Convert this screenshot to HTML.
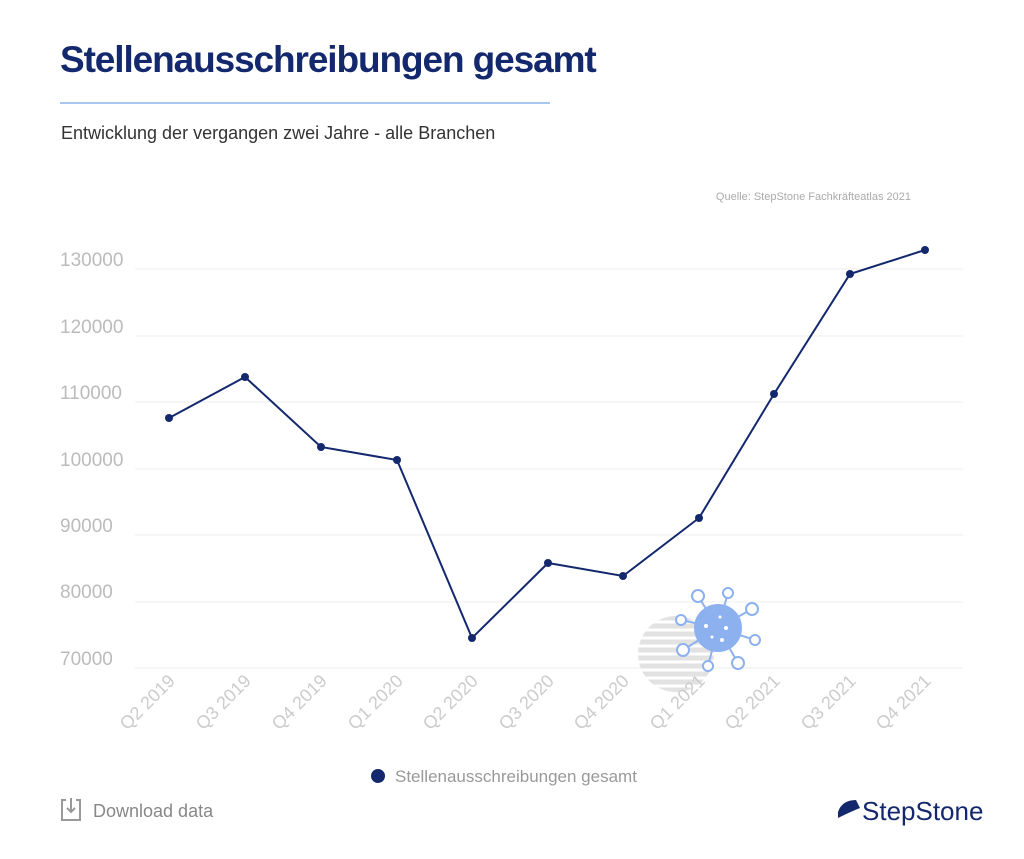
<!DOCTYPE html>
<html><head><meta charset="utf-8"><style>
body{margin:0;background:#fff;width:1024px;height:854px;overflow:hidden;font-family:"Liberation Sans",sans-serif}
</style></head><body>
<svg width="1024" height="854" xmlns="http://www.w3.org/2000/svg" font-family="Liberation Sans, sans-serif">
<text x="60" y="72" font-size="37" font-weight="bold" fill="#14286e" letter-spacing="-1.1">Stellenausschreibungen gesamt</text>
<rect x="60" y="102" width="490" height="2" fill="#a9c6ee"/>
<text x="61" y="139" font-size="18" fill="#333">Entwicklung der vergangen zwei Jahre - alle Branchen</text>
<text x="911" y="200" font-size="11" fill="#aaa" text-anchor="end">Quelle: StepStone Fachkräfteatlas 2021</text>
<g stroke="#eee" stroke-width="1">
<line x1="135" x2="963" y1="269" y2="269"/><line x1="135" x2="963" y1="336" y2="336"/>
<line x1="135" x2="963" y1="402" y2="402"/><line x1="135" x2="963" y1="469" y2="469"/>
<line x1="135" x2="963" y1="535" y2="535"/><line x1="135" x2="963" y1="602" y2="602"/>
<line x1="135" x2="963" y1="668" y2="668"/>
</g>
<g font-size="19" fill="#bbb">
<text x="60" y="266">130000</text><text x="60" y="333">120000</text><text x="60" y="399">110000</text>
<text x="60" y="466">100000</text><text x="60" y="532">90000</text><text x="60" y="598">80000</text><text x="60" y="665">70000</text>
</g>
<g>
<circle cx="676" cy="654" r="38" fill="#e2e2e2"/>
<g stroke="#fff" stroke-width="3"><line x1="630" x2="720" y1="622" y2="622"/><line x1="630" x2="720" y1="630" y2="630"/><line x1="630" x2="720" y1="638" y2="638"/><line x1="630" x2="720" y1="646" y2="646"/><line x1="630" x2="720" y1="654" y2="654"/><line x1="630" x2="720" y1="662" y2="662"/><line x1="630" x2="720" y1="670" y2="670"/><line x1="630" x2="720" y1="678" y2="678"/><line x1="630" x2="720" y1="686" y2="686"/></g>
<g stroke="#8db1ee" stroke-width="2" fill="#fff">
<line x1="718" y1="628" x2="698" y2="596"/><line x1="718" y1="628" x2="728" y2="593"/><line x1="718" y1="628" x2="752" y2="609"/><line x1="718" y1="628" x2="755" y2="640"/><line x1="718" y1="628" x2="738" y2="663"/><line x1="718" y1="628" x2="708" y2="666"/><line x1="718" y1="628" x2="683" y2="650"/><line x1="718" y1="628" x2="681" y2="620"/>
<circle cx="698" cy="596" r="6"/><circle cx="728" cy="593" r="5"/><circle cx="752" cy="609" r="6"/><circle cx="755" cy="640" r="5"/><circle cx="738" cy="663" r="6"/><circle cx="708" cy="666" r="5"/><circle cx="683" cy="650" r="6"/><circle cx="681" cy="620" r="5"/>
<circle cx="718" cy="628" r="23" fill="#8db1ee"/>
</g>
<g fill="#fff"><circle cx="706" cy="626" r="2"/><circle cx="726" cy="628" r="2"/><circle cx="720" cy="617" r="1.5"/><circle cx="712" cy="637" r="1.5"/><circle cx="722" cy="640" r="2"/></g>
</g>
<polyline fill="none" stroke="#14286e" stroke-width="2" points="169,418 245,377 321,447 397,460 472,638 548,563 623,576 699,518 774,394 850,274 925,250"/>
<g fill="#14286e"><circle cx="169" cy="418" r="4"/><circle cx="245" cy="377" r="4"/><circle cx="321" cy="447" r="4"/><circle cx="397" cy="460" r="4"/><circle cx="472" cy="638" r="4"/><circle cx="548" cy="563" r="4"/><circle cx="623" cy="576" r="4"/><circle cx="699" cy="518" r="4"/><circle cx="774" cy="394" r="4"/><circle cx="850" cy="274" r="4"/><circle cx="925" cy="250" r="4"/></g>
<g font-size="18" fill="#ccc" text-anchor="end">
<text transform="translate(176,682) rotate(-45)">Q2 2019</text>
<text transform="translate(252,682) rotate(-45)">Q3 2019</text>
<text transform="translate(328,682) rotate(-45)">Q4 2019</text>
<text transform="translate(404,682) rotate(-45)">Q1 2020</text>
<text transform="translate(479,682) rotate(-45)">Q2 2020</text>
<text transform="translate(555,682) rotate(-45)">Q3 2020</text>
<text transform="translate(630,682) rotate(-45)">Q4 2020</text>
<text transform="translate(706,682) rotate(-45)">Q1 2021</text>
<text transform="translate(781,682) rotate(-45)">Q2 2021</text>
<text transform="translate(857,682) rotate(-45)">Q3 2021</text>
<text transform="translate(932,682) rotate(-45)">Q4 2021</text>
</g>
<circle cx="378" cy="776" r="7" fill="#14286e"/>
<text x="395" y="782" font-size="17" fill="#999">Stellenausschreibungen gesamt</text>
<g stroke="#999" stroke-width="2" fill="none"><path d="M66 800 H62 V820 H80 V800 H76"/><path d="M71 798 V812 M67 808 L71 812 L75 808"/></g>
<text x="93" y="817" font-size="18" fill="#888">Download data</text>
<path d="M838 812 Q842 800 856 800 L860 808 Q850 812 838 818 Z" fill="#14286e"/>
<text x="862" y="820" font-size="26" fill="#14286e">StepStone</text>
</svg>
</body></html>
